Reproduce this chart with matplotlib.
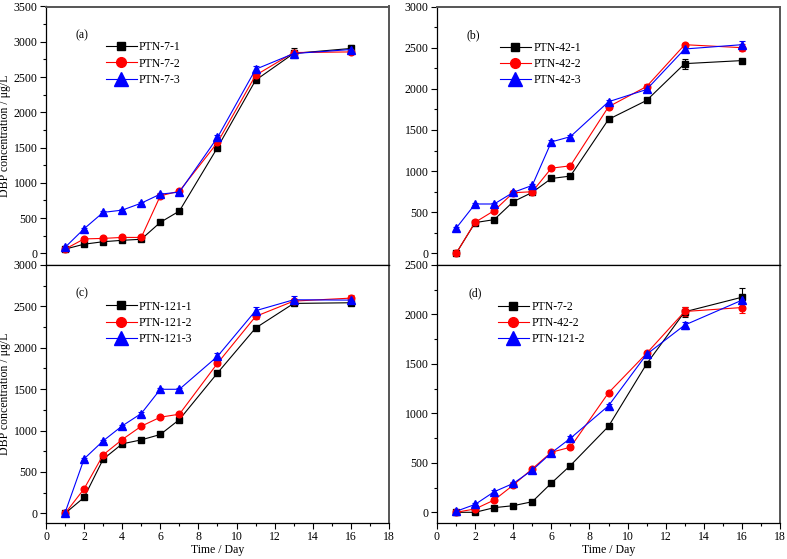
import numpy as np
import matplotlib
matplotlib.use('Agg')
import matplotlib.pyplot as plt
from matplotlib.ticker import MultipleLocator
from matplotlib.lines import Line2D

plt.rcParams['font.family'] = ['Liberation Serif', 'DejaVu Serif']
plt.rcParams['font.size'] = 8.5

# sampling days
days = [1, 2, 3, 4, 5, 6, 7, 9, 11, 13, 16]

# (a)
a_names = ['PTN-7-1', 'PTN-7-2', 'PTN-7-3']
a1 = [60, 130, 165, 185, 200, 440, 600, 1500, 2455, 2835, 2905]
a2 = [60, 205, 212, 226, 226, 816, 882, 1572, 2525, 2847, 2856]
a3 = [85, 349, 581, 613, 712, 840, 868, 1643, 2610, 2833, 2890]
a1_err = [15, 15, 15, 15, 15, 20, 20, 30, 30, 70, 50]
a2_err = [15, 15, 15, 15, 15, 20, 20, 30, 30, 30, 30]
a3_err = [15, 15, 15, 15, 15, 20, 20, 40, 40, 30, 30]

# (b)
b_names = ['PTN-42-1', 'PTN-42-2', 'PTN-42-3']
b1 = [0, 375, 411, 629, 742, 911, 940, 1629, 1859, 2306, 2343]
b2 = [0, 379, 520, 738, 750, 1036, 1065, 1782, 2028, 2536, 2500]
b3 = [306, 601, 601, 742, 827, 1355, 1419, 1843, 1992, 2484, 2536]
b1_err = [15, 15, 15, 15, 15, 20, 20, 20, 25, 60, 20]
b2_err = [15, 15, 15, 15, 15, 20, 20, 25, 25, 25, 40]
b3_err = [15, 15, 15, 15, 15, 20, 25, 25, 25, 40, 45]

# (c)
c_names = ['PTN-121-1', 'PTN-121-2', 'PTN-121-3']
c1 = [0, 193, 655, 840, 888, 953, 1133, 1696, 2239, 2536, 2544]
c2 = [0, 297, 707, 892, 1053, 1162, 1198, 1813, 2379, 2564, 2600]
c3 = [8, 659, 876, 1057, 1206, 1499, 1499, 1897, 2448, 2580, 2576]
c1_err = [15, 15, 20, 15, 15, 15, 20, 20, 30, 25, 25]
c2_err = [15, 15, 20, 15, 15, 15, 20, 25, 30, 25, 40]
c3_err = [15, 15, 15, 15, 15, 15, 20, 40, 45, 40, 25]

# (d)
d_names = ['PTN-7-2', 'PTN-42-2', 'PTN-121-2']
d1 = [0, 0, 47, 67, 107, 295, 473, 869, 1500, 2027, 2174]
d2 = [0, 34, 124, 275, 440, 607, 658, 1208, 1607, 2030, 2070]
d3 = [10, 80, 208, 292, 426, 601, 748, 1077, 1597, 1893, 2144]
d1_err = [10, 10, 15, 15, 15, 15, 15, 20, 20, 50, 90]
d2_err = [10, 10, 15, 15, 15, 15, 15, 20, 25, 50, 60]
d3_err = [10, 10, 15, 15, 15, 20, 20, 20, 25, 35, 30]

colors = ['black', 'red', 'blue']
markers = ['s', 'o', '^']
msizes = [4.2, 4.8, 5.8]
leg_msizes = [6.0, 7.0, 10.0]

panels = [
    ('(a)', a_names, [a1, a2, a3], [a1_err, a2_err, a3_err], (-165, 3500), 3500),
    ('(b)', b_names, [b1, b2, b3], [b1_err, b2_err, b3_err], (-140, 3000), 3000),
    ('(c)', c_names, [c1, c2, c3], [c1_err, c2_err, c3_err], (-110, 3000), 3000),
    ('(d)', d_names, [d1, d2, d3], [d1_err, d2_err, d3_err], (-103, 2500), 2500),
]

W, H = 787, 559
rects = [
    [46 / W, 1 - 265 / H, 343 / W, 258.5 / H],
    [437 / W, 1 - 265 / H, 343 / W, 258.5 / H],
    [46 / W, 1 - 522.5 / H, 343 / W, 257.5 / H],
    [437 / W, 1 - 522.5 / H, 343 / W, 257.5 / H],
]
leg_pos = [(0.175, 0.865), (0.184, 0.862), (0.175, 0.862), (0.178, 0.86)]
lab_pos = [(0.087, 0.89), (0.087, 0.89), (0.087, 0.89), (0.093, 0.89)]

fig = plt.figure(figsize=(7.87, 5.59), dpi=100)

for k in range(4):
    tag, names, ys, errs, ylim, ytop = panels[k]
    ax = fig.add_axes(rects[k])
    handles = []
    for i in range(3):
        ax.errorbar(days, ys[i], yerr=errs[i], color=colors[i], marker=markers[i],
                    markersize=msizes[i], linewidth=0.8, elinewidth=0.8, capsize=2,
                    capthick=0.8)
        handles.append(Line2D([], [], color=colors[i], marker=markers[i],
                              markersize=leg_msizes[i], linewidth=0.8))
    ax.set_xlim(0, 18)
    ax.set_ylim(ylim)
    ax.set_yticks(np.arange(0, ytop + 1, 500))
    ax.yaxis.set_minor_locator(MultipleLocator(250))
    ax.xaxis.set_major_locator(MultipleLocator(2))
    ax.xaxis.set_minor_locator(MultipleLocator(1))
    ax.tick_params(which='both', direction='out', right=False, top=False)
    ax.tick_params(which='major', length=4, width=0.8, pad=2)
    ax.tick_params(which='minor', length=2.5, width=0.8)
    for s in ['left', 'bottom']:
        ax.spines[s].set_color('black')
        ax.spines[s].set_linewidth(0.9)
    for s in ['top', 'right']:
        ax.spines[s].set_color('#555555')
        ax.spines[s].set_linewidth(1.4)
    if k < 2:
        ax.tick_params(which='both', bottom=False, labelbottom=False)
    else:
        ax.spines['top'].set_color('black')
        ax.spines['top'].set_linewidth(0.9)
        ax.set_xlabel('Time / Day', labelpad=1)
    if k % 2 == 0:
        ax.set_ylabel('DBP concentration / μg/L', labelpad=2)
    ax.text(lab_pos[k][0], lab_pos[k][1], tag, transform=ax.transAxes, fontsize=8.5,
            ha='left', va='center')
    ax.legend(handles, names, loc='upper left', bbox_to_anchor=leg_pos[k], frameon=False,
              borderpad=0, borderaxespad=0, handlelength=2.6, handletextpad=0.2,
              labelspacing=0.35, fontsize=8.5)

fig.savefig('out.png', dpi=100)
